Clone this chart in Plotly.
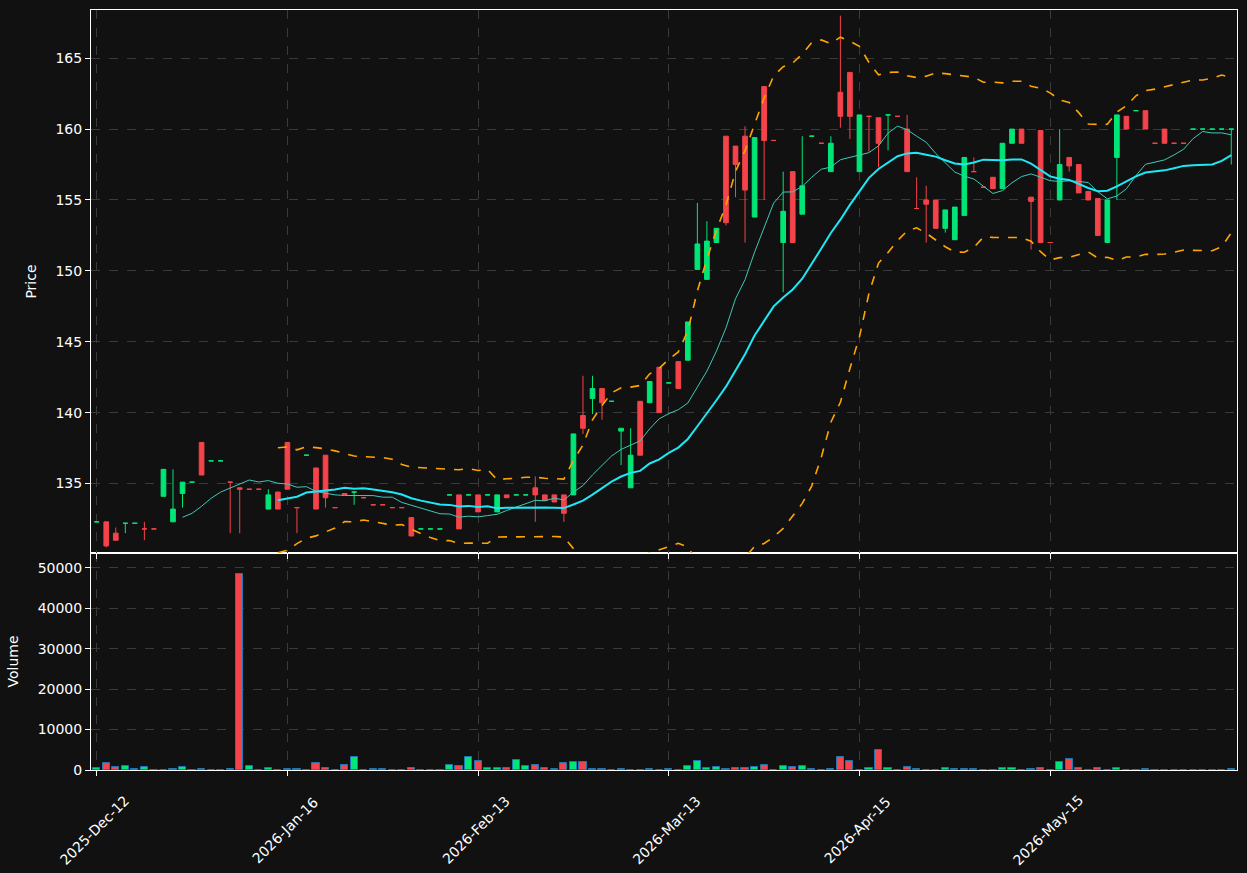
import pandas as pd
import plotly.graph_objects as go

date_labels = ['2025-Dec-12', '2026-Jan-16', '2026-Feb-13', '2026-Mar-13', '2026-Apr-15', '2026-May-15']
date_pos = [0, 20, 40, 60, 80, 100]

opens = [132.3, 132.3, 131.5, 132.2, 132.2, 131.8, 131.8, 134.1, 132.3, 134.3,
         135.1, 137.9, 136.6, 136.6, 135.1, 134.7, 134.6, 134.6, 133.2, 134.4,
         137.9, 133.3, 137.0, 136.1, 137.0, 133.3, 134.3, 134.4, 134.0, 133.5,
         133.5, 133.3, 133.3, 132.6, 131.8, 131.8, 131.8, 134.2, 134.2, 134.2,
         134.2, 134.2, 133.0, 134.2, 134.2, 134.2, 134.7, 134.2, 134.2, 134.2,
         134.2, 139.8, 141.0, 141.7, 140.8, 138.7, 134.7, 140.8, 140.7, 143.2,
         142.1, 143.6, 143.7, 150.1, 149.4, 152.0, 159.5, 158.8, 159.5, 153.8,
         163.0, 159.2, 152.0, 157.0, 154.0, 159.5, 159.0, 157.0, 162.6, 164.0,
         157.0, 160.9, 160.8, 161.0, 160.9, 160.0, 154.4, 155.0, 155.0, 153.0,
         152.2, 153.9, 157.0, 155.9, 156.6, 155.8, 159.0, 160.0, 155.2, 159.9,
         152.0, 155.0, 158.0, 157.5, 155.6, 155.1, 152.0, 158.0, 160.9, 161.3,
         161.3, 159.0, 160.0, 159.0, 159.0, 160.0, 160.0, 160.0, 160.0, 160.0]
highs = [132.3, 132.3, 131.9, 132.2, 132.2, 132.3, 131.8, 136.0, 136.0, 135.1,
         135.1, 137.9, 136.6, 136.6, 135.1, 134.7, 134.6, 134.6, 134.6, 134.4,
         137.9, 133.3, 137.0, 136.1, 137.0, 133.3, 134.3, 134.4, 134.0, 133.5,
         133.5, 133.3, 133.3, 132.6, 131.8, 131.8, 131.8, 134.2, 134.2, 134.2,
         134.2, 134.2, 134.2, 134.2, 134.2, 134.2, 135.5, 134.2, 134.2, 134.2,
         138.5, 142.6, 142.6, 141.7, 140.8, 138.9, 138.9, 140.8, 142.2, 143.2,
         142.1, 143.6, 146.4, 154.8, 153.5, 153.0, 159.5, 158.8, 160.2, 159.4,
         163.0, 159.2, 157.0, 157.0, 159.5, 159.5, 159.0, 159.5, 168.0, 164.0,
         161.0, 160.9, 160.8, 161.0, 160.9, 161.0, 156.6, 156.0, 155.0, 154.3,
         154.5, 158.0, 158.0, 155.9, 156.6, 159.0, 160.0, 160.0, 155.2, 159.9,
         152.0, 160.0, 158.0, 157.5, 155.6, 155.1, 155.0, 161.0, 160.9, 161.3,
         161.3, 159.0, 160.0, 159.0, 159.0, 160.0, 160.0, 160.0, 160.0, 160.0]
lows = [132.3, 130.5, 131.0, 131.5, 132.2, 131.0, 131.8, 134.1, 132.3, 133.3,
        135.1, 135.6, 136.6, 136.6, 131.5, 131.5, 134.6, 134.6, 133.2, 133.2,
        134.6, 131.5, 137.0, 133.2, 133.3, 133.3, 134.2, 133.5, 134.0, 133.5,
        133.5, 133.3, 133.3, 131.3, 131.8, 131.8, 131.8, 134.2, 131.8, 134.2,
        133.0, 134.2, 133.0, 134.0, 134.2, 134.2, 132.3, 133.8, 133.7, 132.3,
        134.2, 138.5, 139.9, 139.5, 140.8, 136.3, 134.7, 137.0, 140.7, 140.0,
        142.1, 141.7, 143.7, 150.1, 149.4, 152.0, 153.2, 155.2, 152.0, 153.8,
        155.0, 159.2, 148.5, 152.0, 154.0, 159.5, 159.0, 157.0, 160.1, 159.3,
        157.0, 158.4, 157.3, 158.5, 160.9, 157.0, 154.4, 152.0, 153.0, 152.7,
        152.2, 153.9, 157.0, 155.9, 155.8, 155.8, 159.0, 159.0, 151.5, 152.0,
        152.0, 155.0, 157.0, 155.5, 155.0, 152.5, 152.0, 155.0, 160.0, 161.3,
        160.0, 159.0, 159.0, 159.0, 159.0, 160.0, 160.0, 160.0, 160.0, 157.5]
closes = [132.3, 130.6, 131.0, 132.2, 132.2, 131.8, 131.8, 136.0, 133.2, 135.1,
          135.1, 135.6, 136.6, 136.6, 135.1, 134.6, 134.6, 134.6, 134.2, 133.2,
          134.6, 133.3, 137.0, 133.2, 134.0, 133.3, 134.2, 134.4, 134.0, 133.5,
          133.5, 133.3, 133.3, 131.3, 131.8, 131.8, 131.8, 134.2, 131.8, 134.2,
          133.0, 134.2, 134.2, 134.0, 134.2, 134.2, 134.2, 133.8, 133.7, 132.9,
          138.5, 138.9, 141.7, 140.7, 140.8, 138.9, 137.0, 137.0, 142.2, 140.0,
          142.1, 141.7, 146.4, 151.9, 152.1, 153.0, 153.4, 157.5, 155.7, 159.4,
          159.2, 159.2, 154.2, 152.0, 156.0, 159.5, 159.0, 159.0, 160.9, 160.9,
          161.0, 160.9, 159.0, 161.0, 160.9, 157.0, 154.4, 154.7, 153.0, 154.3,
          154.5, 158.0, 157.0, 155.9, 155.8, 159.0, 160.0, 159.0, 154.9, 152.0,
          152.0, 157.5, 157.4, 155.5, 155.0, 152.5, 155.0, 161.0, 160.0, 161.3,
          160.0, 159.0, 159.0, 159.0, 159.0, 160.0, 160.0, 160.0, 160.0, 160.0]
volumes = [400, 1800, 700, 1000, 200, 700, 100, 100, 200, 700,
           100, 200, 100, 100, 300, 48500, 1000, 100, 400, 100,
           150, 150, 100, 1800, 400, 100, 1300, 3200, 100, 200,
           200, 100, 100, 400, 100, 100, 100, 1300, 1000, 3300,
           2300, 400, 400, 600, 2500, 900, 1200, 500, 200, 1800,
           2000, 2000, 200, 200, 100, 200, 100, 100, 200, 100,
           200, 100, 1000, 2300, 400, 700, 200, 400, 500, 800,
           1300, 100, 1000, 700, 1000, 200, 100, 200, 3300, 2100,
           100, 500, 5000, 400, 100, 700, 200, 100, 100, 400,
           200, 200, 200, 100, 100, 400, 400, 100, 200, 500,
           100, 2000, 2800, 400, 100, 400, 100, 400, 100, 100,
           200, 100, 100, 100, 100, 100, 100, 100, 100, 200]

UP = '#00e676'
DOWN = '#f4434a'

df = pd.DataFrame({'open': opens, 'high': highs, 'low': lows, 'close': closes, 'volume': volumes})
df['x'] = range(len(df))
df['ma10'] = df['close'].rolling(10).mean()
df['ma20'] = df['close'].rolling(20).mean()
sd = df['close'].rolling(20).std()
df['bb_up'] = df['ma20'] + 2 * sd
df['bb_lo'] = df['ma20'] - 2 * sd

fig = go.Figure()
fig.add_trace(go.Candlestick(
    x=df['x'], open=df['open'], high=df['high'], low=df['low'], close=df['close'],
    increasing=dict(line=dict(color=UP, width=1), fillcolor=UP),
    decreasing=dict(line=dict(color=DOWN, width=1), fillcolor=DOWN),
    whiskerwidth=0, xaxis='x2', yaxis='y2', showlegend=False))
fig.add_trace(go.Scatter(x=df['x'], y=df['ma10'], mode='lines', line=dict(color='#3fc9b8', width=1),
                         xaxis='x2', yaxis='y2', showlegend=False))
fig.add_trace(go.Scatter(x=df['x'], y=df['ma20'], mode='lines', line=dict(color='#1ee8f5', width=2),
                         xaxis='x2', yaxis='y2', showlegend=False))
for col in ['bb_up', 'bb_lo']:
    fig.add_trace(go.Scatter(x=df['x'], y=df[col], mode='lines', line=dict(color='#ffa500', width=1.6, dash='dash'),
                             xaxis='x2', yaxis='y2', showlegend=False))

vcolors = [UP if c >= o else DOWN for o, c in zip(opens, closes)]
fig.add_trace(go.Bar(x=df['x'], y=df['volume'], marker=dict(color=vcolors, line=dict(color='#1f77b4', width=1)),
                     width=0.75, xaxis='x', yaxis='y', showlegend=False))

grid = dict(showgrid=True, gridcolor='#3a3a3a', griddash='dash', gridwidth=1)
axline = dict(showline=True, linecolor='white', linewidth=1, mirror=True, zeroline=False,
              ticks='outside', tickcolor='white', tickfont=dict(color='white', size=14))

# date labels centred on their ticks, like matplotlib's rotated labels
for pos, lab in zip(date_pos, date_labels):
    fig.add_annotation(x=pos, y=0, xref='x', yref='paper', text=lab, showarrow=False,
                       textangle=-45, xanchor='center', yanchor='middle', yshift=-60, xshift=-2,
                       font=dict(color='white', size=14))

fig.update_layout(
    width=1247, height=873, paper_bgcolor='#111111', plot_bgcolor='#111111',
    margin=dict(l=91, r=10, t=10, b=103),
    font=dict(family='DejaVu Sans', color='white'),
    bargap=0,
    xaxis=dict(range=[-0.6, 119.6], tickvals=date_pos, showticklabels=False,
               rangeslider=dict(visible=False), anchor='y', **grid, **axline),
    xaxis2=dict(range=[-0.6, 119.6], tickvals=date_pos, showticklabels=False, anchor='y2',
                rangeslider=dict(visible=False), matches='x', **grid, **axline),
    yaxis=dict(domain=[0, 0.2855], range=[0, 53700], tickvals=[0, 10000, 20000, 30000, 40000, 50000],
               tickformat='d', title=dict(text='Volume', font=dict(size=14, color='white')), **grid, **axline),
    yaxis2=dict(domain=[0.2855, 1], range=[130.1, 168.4], tickvals=[135, 140, 145, 150, 155, 160, 165],
                title=dict(text='Price', font=dict(size=14, color='white')), **grid, **axline),
)

fig.write_html('out.html', config={'displayModeBar': False},
               post_script="document.body.style.margin='0';document.body.style.background='#111111';")
